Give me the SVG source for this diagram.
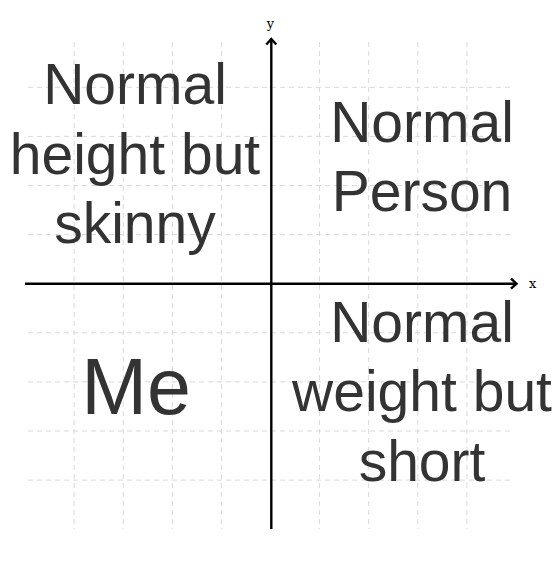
<svg xmlns="http://www.w3.org/2000/svg" width="558" height="571" viewBox="0 0 558 571">
<style>
.grid line{stroke:#d9d9d9;stroke-width:1;stroke-dasharray:5 4;fill:none}
.axis{stroke:#000;stroke-width:2.4;fill:none}
.big{font-family:"Liberation Sans",Arial,sans-serif;font-size:57px;fill:#333;text-anchor:middle}
.ax{font-family:"DejaVu Serif","Liberation Serif",serif;font-size:13px;fill:#000}
</style>
<rect width="558" height="571" fill="#fff"/>
<g class="grid">
<line x1="74.1" y1="42" x2="74.1" y2="529"/>
<line x1="123.2" y1="42" x2="123.2" y2="529"/>
<line x1="172.3" y1="42" x2="172.3" y2="529"/>
<line x1="221.4" y1="42" x2="221.4" y2="529"/>
<line x1="319.6" y1="42" x2="319.6" y2="529"/>
<line x1="368.7" y1="42" x2="368.7" y2="529"/>
<line x1="417.8" y1="42" x2="417.8" y2="529"/>
<line x1="466.9" y1="42" x2="466.9" y2="529"/>
<line x1="28" y1="87.3" x2="514" y2="87.3"/>
<line x1="28" y1="136.4" x2="514" y2="136.4"/>
<line x1="28" y1="185.5" x2="514" y2="185.5"/>
<line x1="28" y1="234.6" x2="514" y2="234.6"/>
<line x1="28" y1="332.8" x2="514" y2="332.8"/>
<line x1="28" y1="381.9" x2="514" y2="381.9"/>
<line x1="28" y1="431" x2="514" y2="431"/>
<line x1="28" y1="480.1" x2="514" y2="480.1"/>
</g>
<g id="connectors">
<path class="axis" d="M25 283.7H516"/>
<path class="axis" d="M511 278.7L516.5 283.7L511 288.7"/>
<path class="axis" d="M271.3 529V39"/>
<path class="axis" d="M266.3 44.5L271.3 39L276.3 44.5"/>
</g>
<g id="axis-labels">
<text class="ax" x="270.5" y="28" text-anchor="middle">y</text>
<text class="ax" x="529" y="288">x</text>
</g>
<g id="q-top-left">
<text class="big" x="135" y="103.5">Normal</text>
<text class="big" x="135" y="173.5">height but</text>
<text class="big" x="135" y="243">skinny</text>
</g>
<g id="q-top-right">
<text class="big" x="422" y="141.7">Normal</text>
<text class="big" x="422" y="210.7">Person</text>
</g>
<g id="q-bottom-left">
<text class="big" x="136" y="414" style="font-size:79px">Me</text>
</g>
<g id="q-bottom-right">
<text class="big" x="422" y="341.5">Normal</text>
<text class="big" x="422" y="411">weight but</text>
<text class="big" x="422" y="481">short</text>
</g>
</svg>
